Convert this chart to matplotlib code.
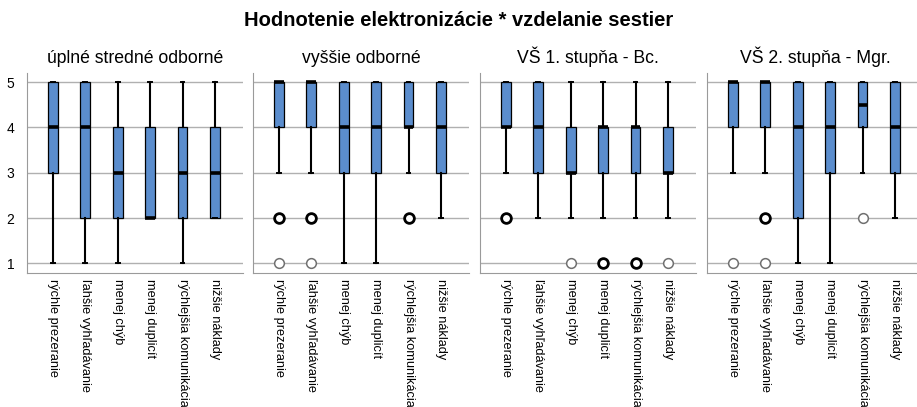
import matplotlib
matplotlib.use("Agg")
import matplotlib.pyplot as plt

plt.rcParams['font.family'] = ['Liberation Sans', 'DejaVu Sans']

title = "Hodnotenie elektronizácie * vzdelanie sestier"
groups = ["úplné stredné odborné", "vyššie odborné", "VŠ 1. stupňa - Bc.", "VŠ 2. stupňa - Mgr."]
items = ["rýchle prezeranie", "ľahšie vyhľadávanie", "menej chýb",
         "menej duplicít", "rýchlejšia komunikácia", "nižšie náklady"]

# per group: lists over the six items
whislo = [[1, 1, 1, 2, 1, 2],
          [3, 3, 1, 1, 3, 2],
          [3, 2, 2, 2, 2, 2],
          [3, 3, 1, 1, 3, 2]]
q1 = [[3, 2, 2, 2, 2, 2],
      [4, 4, 3, 3, 4, 3],
      [4, 3, 3, 3, 3, 3],
      [4, 4, 2, 3, 4, 3]]
med = [[4, 4, 3, 2, 3, 3],
       [5, 5, 4, 4, 4, 4],
       [4, 4, 3, 4, 4, 3],
       [5, 5, 4, 4, 4.5, 4]]
q3 = [[5, 5, 4, 4, 4, 4],
      [5, 5, 5, 5, 5, 5],
      [5, 5, 4, 4, 4, 4],
      [5, 5, 5, 5, 5, 5]]
whishi = [[5, 5, 5, 5, 5, 5],
          [5, 5, 5, 5, 5, 5],
          [5, 5, 5, 5, 5, 5],
          [5, 5, 5, 5, 5, 5]]
# outliers drawn bold / light
out_bold = [[[], [], [], [], [], []],
            [[2], [2], [], [], [2], []],
            [[2], [], [], [1], [1], []],
            [[], [2], [], [], [], []]]
out_light = [[[], [], [], [], [], []],
             [[1], [1], [], [], [], []],
             [[], [], [1], [], [], [1]],
             [[1], [1], [], [], [2], []]]

W, H = 917, 407
fig = plt.figure(figsize=(W / 100, H / 100), dpi=100)
fig.text(0.5, 1 - 20 / H, title, ha='center', va='center', fontsize=14.5, fontweight='bold')

lefts = [27, 253, 480, 707]
box_color = "#5B8DCD"
for g in range(4):
    ax = fig.add_axes([lefts[g] / W, (H - 273) / H, 216 / W, 200 / H])
    stats = []
    for i in range(6):
        stats.append(dict(whislo=whislo[g][i], q1=q1[g][i], med=med[g][i],
                          q3=q3[g][i], whishi=whishi[g][i], fliers=out_bold[g][i]))
    pos = list(range(6))
    ax.bxp(stats, positions=pos, widths=0.3, patch_artist=True, capwidths=0.12,
           boxprops=dict(facecolor=box_color, edgecolor='black', linewidth=0.9),
           medianprops=dict(color='black', linewidth=2.6, solid_capstyle='butt'),
           whiskerprops=dict(color='black', linewidth=1.5),
           capprops=dict(color='black', linewidth=1.4),
           flierprops=dict(marker='o', markersize=7, markerfacecolor='white',
                           markeredgecolor='black', markeredgewidth=2))
    for i in range(6):
        for v in out_light[g][i]:
            ax.plot(pos[i], v, marker='o', markersize=7, markerfacecolor='white',
                    markeredgecolor='#707070', markeredgewidth=1.1)
    ax.set_ylim(0.79, 5.2)
    ax.set_xlim(-0.8, -0.8 + 216 / 32.4)
    ax.set_yticks([1, 2, 3, 4, 5])
    ax.yaxis.grid(True, color='#b0b0b0', linewidth=1)
    ax.set_axisbelow(True)
    for s in ['top', 'right']:
        ax.spines[s].set_visible(False)
    for s in ['left', 'bottom']:
        ax.spines[s].set_color('#9a9a9a')
    ax.set_xticks(pos)
    ax.set_xticklabels(items, rotation=-90, fontsize=9.2, va='top', ha='center')
    ax.tick_params(axis='x', length=0, pad=4)
    ax.tick_params(axis='y', length=0, pad=9, labelsize=10)
    if g > 0:
        ax.set_yticklabels([])
    ax.set_title(groups[g], fontsize=12.7, pad=7)

fig.savefig("out.png", dpi=100)
